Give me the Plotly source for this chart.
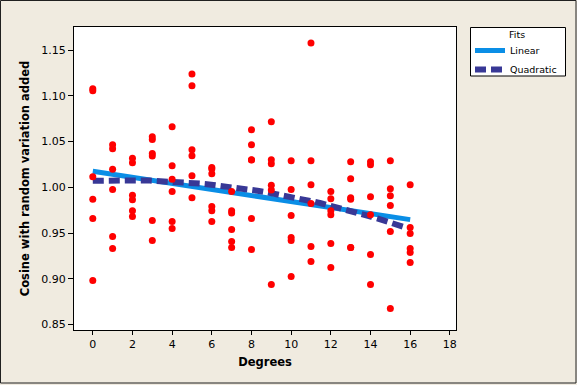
import numpy as np
import plotly.graph_objects as go

degrees = [0]*6 + [1]*6 + [2]*6 + [3]*6 + [4]*6 + [5]*6 + [6]*6 + [7]*6 + [8]*6 + \
          [9]*6 + [10]*6 + [11]*6 + [12]*6 + [13]*6 + [14]*6 + [15]*6 + [16]*6
cosine_noisy = [
    1.1078, 1.1056, 1.0117, 0.9869, 0.9658, 0.8981,   # 0
    1.0466, 1.0422, 1.0197, 0.9975, 0.9461, 0.9330,   # 1
    1.0317, 1.0269, 0.9913, 0.9865, 0.9745, 0.9680,   # 2
    1.0553, 1.0524, 1.0371, 1.0342, 0.9636, 0.9418,   # 3
    1.0663, 1.0237, 1.0087, 0.9953, 0.9625, 0.9549,   # 4
    1.1241, 1.1110, 1.0411, 1.0346, 1.0127, 0.9887,   # 5
    1.0218, 1.0200, 1.0149, 0.9789, 0.9745, 0.9625,   # 6
    0.9953, 0.9745, 0.9720, 0.9538, 0.9407, 0.9341,   # 7
    1.0630, 1.0466, 1.0302, 1.0300, 0.9658, 0.9319,   # 8
    1.0717, 1.0302, 1.0259, 1.0022, 0.9971, 0.8937,   # 9
    1.0291, 0.9975, 0.9691, 0.9450, 0.9418, 0.9024,   # 10
    1.1580, 1.0291, 1.0029, 0.9822, 0.9352, 0.9188,   # 11
    0.9953, 0.9876, 0.9745, 0.9701, 0.9385, 0.9123,   # 12
    1.0280, 1.0095, 0.9887, 0.9869, 0.9341, 0.9341,   # 13
    1.0280, 1.0248, 0.9898, 0.9701, 0.9265, 0.8937,   # 14
    1.0291, 0.9985, 0.9909, 0.9800, 0.9516, 0.8675,   # 15
    1.0029, 0.9560, 0.9494, 0.9330, 0.9286, 0.9177,   # 16
]
x_ticks = [0, 2, 4, 6, 8, 10, 12, 14, 16, 18]
y_ticks = [0.85, 0.90, 0.95, 1.00, 1.05, 1.10, 1.15]
legend_title = "Fits"

xd = np.array(degrees, dtype=float)
yd = np.array(cosine_noisy)
lin = np.polyfit(xd, yd, 1)
quad = np.polyfit(xd, yd, 2)

xl = np.linspace(0, 16, 50)
xq = np.linspace(0, 15.65, 50)

fig = go.Figure()
fig.add_trace(go.Scatter(x=xl, y=np.polyval(lin, xl), mode="lines", name="Linear",
                         line=dict(color="#0A8EE6", width=5)))
fig.add_trace(go.Scatter(x=xq, y=np.polyval(quad, xq), mode="lines", name="Quadratic",
                         line=dict(color="#383896", width=6, dash="11px,5px")))
fig.add_trace(go.Scatter(x=degrees, y=cosine_noisy, mode="markers",
                         marker=dict(color="#FF0000", size=7), showlegend=False))

L, R, T, B = 74, 121, 27, 55
W, H = 577, 385
pw, ph = W - L - R, H - T - B

def px_x(p):
    return (p - L) / pw

def px_y(p):
    return (H - B - p) / ph

fig.update_layout(
    width=W, height=H,
    margin=dict(l=L, r=R, t=T, b=B, autoexpand=False),
    paper_bgcolor="#F0EBE0", plot_bgcolor="white",
    font=dict(family="DejaVu Sans", size=11, color="black"),
    legend=dict(x=px_x(470), y=px_y(36), xanchor="left", yanchor="top",
                bgcolor="rgba(0,0,0,0)", borderwidth=0,
                font=dict(size=9.5), itemwidth=30, tracegroupgap=0),
    xaxis=dict(range=[-0.947, 18.31], tickvals=x_ticks, ticks="outside", ticklen=4,
               showgrid=False, zeroline=False, showline=True, linecolor="black",
               mirror=True, linewidth=1, tickcolor="black",
               title=dict(text="<b>Degrees</b>", font=dict(size=11.5), standoff=7)),
    yaxis=dict(range=[0.8439, 1.1754], tickvals=y_ticks, tickformat=".2f",
               ticks="outside", ticklen=5,
               showgrid=False, zeroline=False, showline=True, linecolor="black",
               mirror=True, linewidth=1, tickcolor="black",
               title=dict(text="<b>Cosine with random variation added</b>",
                          font=dict(size=11.5), standoff=9)),
    shapes=[
        dict(type="rect", xref="paper", yref="paper",
             x0=px_x(0.5), x1=px_x(576), y0=px_y(383), y1=px_y(0.5),
             line=dict(color="#202020", width=1), layer="below"),
        dict(type="rect", xref="paper", yref="paper",
             x0=px_x(470.5), x1=px_x(565.5), y0=px_y(76), y1=px_y(27.5),
             line=dict(color="black", width=1), fillcolor="white", layer="above"),
    ],
    annotations=[dict(text=legend_title, xref="paper", yref="paper",
                      x=px_x(517), y=px_y(35), xanchor="center", yanchor="middle",
                      showarrow=False, font=dict(size=9.5))],
)
fig.write_html("out.html", config={"displayModeBar": False},
               post_script="document.body.style.margin='0';document.body.style.overflow='hidden';")
